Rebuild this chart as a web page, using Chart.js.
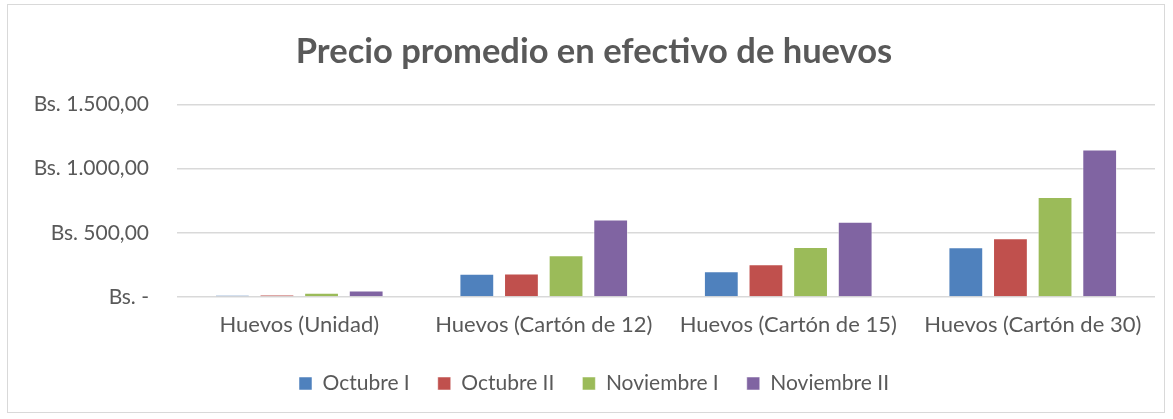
<!DOCTYPE html>
<html>
<head>
<meta charset="utf-8">
<script src="https://cdn.jsdelivr.net/npm/chart.js@4/dist/chart.umd.min.js"></script>
<style>
  body { margin: 0; background: #fff; }
  #frame {
    position: absolute; left: 7px; top: 4px;
    width: 1158px; height: 409px;
    border: 1px solid #d9d9d9; box-sizing: border-box;
  }
</style>
</head>
<body>
<div id="frame"><canvas id="eggChart"></canvas></div>
<script>
// ============================
// Data
// ============================
const categories = [
  "Huevos (Unidad)",
  "Huevos (Cartón de 12)",
  "Huevos (Cartón de 15)",
  "Huevos (Cartón de 30)"
];
const seriesNames = ["Octubre I", "Octubre II", "Noviembre I", "Noviembre II"];
const octubreI = [15, 182, 200, 387];
const octubreII = [18, 183, 255, 457];
const noviembreI = [34, 325, 389, 779];
const noviembreII = [50, 603, 587, 1148];
const yTicks = [0, 500, 1000, 1500];

const colors = ["#4F81BD", "#C0504D", "#9BBB59", "#8064A2"];
const textColor = "#595959";
const fontFamily = "Lato, 'Open Sans', sans-serif";

function fmtBs(v) {
  if (v === 0) return "Bs. -";
  const parts = v.toFixed(2).split(".");
  const intPart = parts[0].replace(/\B(?=(\d{3})+(?!\d))/g, ".");
  return "Bs. " + intPart + "," + parts[1];
}

const seriesValues = [octubreI, octubreII, noviembreI, noviembreII];

const ctx = document.getElementById("eggChart").getContext("2d");
new Chart(ctx, {
  type: "bar",
  data: {
    labels: categories,
    datasets: seriesValues.map((vals, i) => ({
      label: seriesNames[i],
      data: vals,
      backgroundColor: colors[i],
      borderColor: "rgba(255,255,255,0.5)",
      borderWidth: 1,
      categoryPercentage: 0.73,
      barPercentage: 0.78
    }))
  },
  options: {
    responsive: true,
    maintainAspectRatio: false,
    animation: false,
    layout: { padding: { top: 10, bottom: 8, left: 25, right: 9 } },
    scales: {
      x: {
        grid: { display: false },
        border: { display: false },
        ticks: { color: textColor, font: { family: fontFamily, size: 22, lineHeight: 1.0 }, padding: 9, maxRotation: 0 }
      },
      y: {
        min: 0,
        max: 1500,
        afterBuildTicks: axis => { axis.ticks = yTicks.map(v => ({ value: v })); },
        afterFit: axis => { axis.width = 144; },
        grid: { color: "#d9d9d9", lineWidth: 1.5, drawTicks: false },
        border: { display: false },
        ticks: {
          color: textColor,
          font: { family: fontFamily, size: 21 },
          padding: 28,
          callback: v => fmtBs(v)
        }
      }
    },
    plugins: {
      title: {
        display: true,
        text: "Precio promedio en efectivo de huevos",
        color: textColor,
        font: { family: fontFamily, size: 34.5, weight: "bold" },
        padding: { top: 16, bottom: 32 }
      },
      legend: {
        position: "bottom",
        labels: {
          color: textColor,
          font: { family: fontFamily, size: 21 },
          boxWidth: 13,
          boxHeight: 13,
          padding: 28
        }
      },
      tooltip: { enabled: false }
    }
  }
});
</script>
</body>
</html>
